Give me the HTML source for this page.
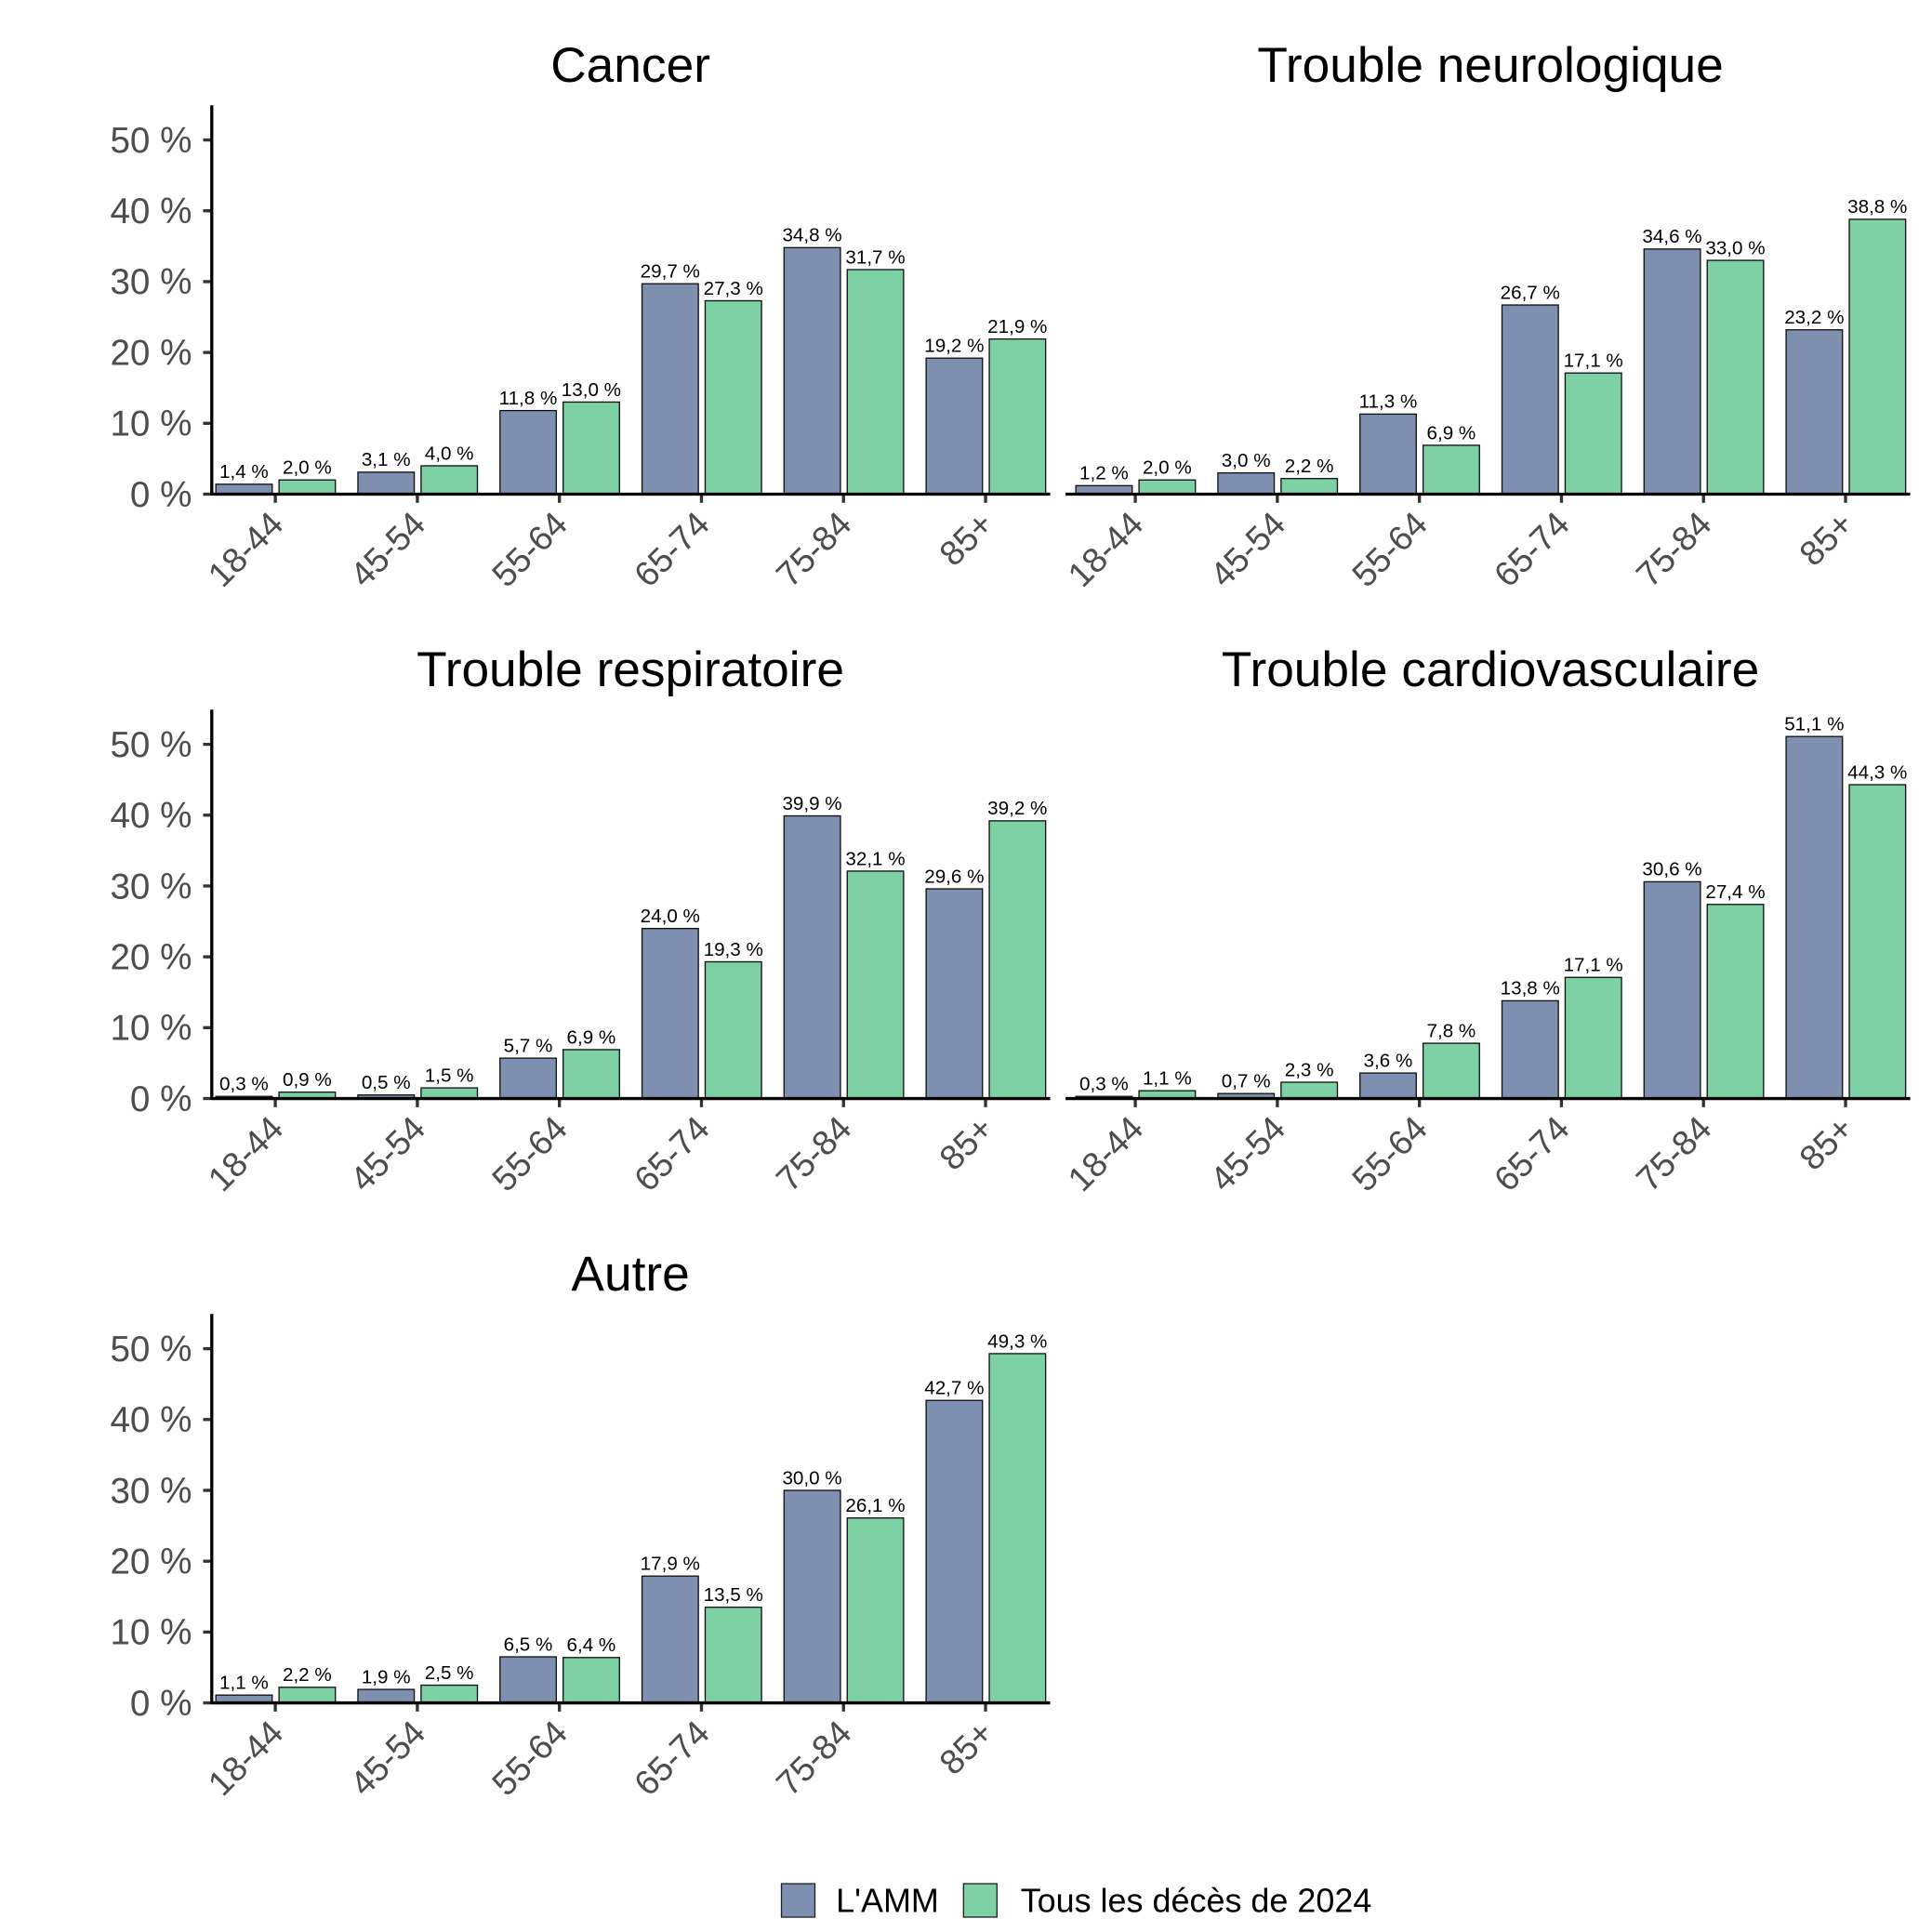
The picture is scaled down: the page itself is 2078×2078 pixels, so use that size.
<!DOCTYPE html>
<html><head><meta charset="utf-8"><style>
html,body{margin:0;padding:0;background:#fff;}
svg{display:block;font-family:"Liberation Sans",sans-serif;}
</style></head><body>
<svg id="chart" width="2078" height="2078" viewBox="0 0 1560 1560" xmlns="http://www.w3.org/2000/svg">
<g id="root"></g>
<g>
 <rect x="631" y="1521" width="27" height="27" fill="#7f8fb0" stroke="#222" stroke-width="1"/>
 <text x="675" y="1544" font-size="27" fill="#000">L'AMM</text>
 <rect x="778" y="1521" width="27" height="27" fill="#7dd1a5" stroke="#222" stroke-width="1"/>
 <text x="824" y="1544" font-size="27" fill="#000">Tous les décès de 2024</text>
</g>
</svg>
<script>
const categories = ["18-44","45-54","55-64","65-74","75-84","85+"];
const panelTitles = ["Cancer","Trouble neurologique","Trouble respiratoire","Trouble cardiovasculaire","Autre"];
const ammValues = [
 [1.4,3.1,11.8,29.7,34.8,19.2],
 [1.2,3.0,11.3,26.7,34.6,23.2],
 [0.3,0.5,5.7,24.0,39.9,29.6],
 [0.3,0.7,3.6,13.8,30.6,51.1],
 [1.1,1.9,6.5,17.9,30.0,42.7]
];
const allValues = [
 [2.0,4.0,13.0,27.3,31.7,21.9],
 [2.0,2.2,6.9,17.1,33.0,38.8],
 [0.9,1.5,6.9,19.3,32.1,39.2],
 [1.1,2.3,7.8,17.1,27.4,44.3],
 [2.2,2.5,6.4,13.5,26.1,49.3]
];
const yTicks = [0,10,20,30,40,50];

const NS="http://www.w3.org/2000/svg";
const root=document.getElementById('root');
function mk(tag,attrs,parent){const e=document.createElementNS(NS,tag);for(const k in attrs)e.setAttribute(k,attrs[k]);parent.appendChild(e);return e;}
function fmt(v){return v.toFixed(1).replace('.',',')+' %';}

panelTitles.forEach((title,p)=>{
  const col=p%2,row=Math.floor(p/2);
  const ox=col*694.4, oy=row*488;
  const axisX=(col?166:171)+ox, baseY=399+oy, right=848+ox;
  const y=v=>baseY-v*5.72;
  const x=i=>222.3+ox+i*114.7;
  const g=mk('g',{},root);
  
  
  const t=mk('text',{x:(x(0)+x(5))/2,y:66+oy,'font-size':40,'text-anchor':'middle',fill:'#000'},g);
  t.textContent=title;
  
  
  categories.forEach((c,i)=>{
    [[ammValues[p][i],'#7f8fb0',-1],[allValues[p][i],'#7dd1a5',1]].forEach(([v,fill,s])=>{
      const bx = s<0 ? x(i)-48 : x(i)+3;
      const r=mk('rect',{x:bx,y:y(v),width:45.5,height:baseY-y(v),fill:fill,stroke:'#111','stroke-width':1},g);
      
      
      const l=mk('text',{x:bx+22.7,y:y(v)-5,'font-size':15.5,'text-anchor':'middle',fill:'#000'},g);
      l.textContent=fmt(v);
      
      
    });
    const tk=mk('line',{x1:x(i),x2:x(i),y1:baseY,y2:baseY+7,stroke:'#333','stroke-width':2.5},g);
    
    
    const ax=x(i)+8, ay=baseY+26;
    const xl=mk('text',{x:ax,y:ay,'font-size':28,'text-anchor':'end',fill:'#4d4d4d',transform:`rotate(-45 ${ax} ${ay})`},g);
    xl.textContent=c;
    
    
  });
  if(col===0){
    yTicks.forEach(v=>{
      const tk=mk('line',{x1:axisX-7,x2:axisX,y1:y(v),y2:y(v),stroke:'#333','stroke-width':2.5},g);
      
      
      const yl=mk('text',{x:axisX-16,y:y(v)+10,'font-size':29,'text-anchor':'end',fill:'#4d4d4d'},g);
      yl.textContent=v+' %';
      
      
    });
    const ya=mk('line',{x1:axisX,x2:axisX,y1:85+oy,y2:baseY+1,stroke:'#000','stroke-width':2.5},g);
    
    
  }
  const xa=mk('line',{x1:axisX,x2:right,y1:baseY,y2:baseY,stroke:'#000','stroke-width':2.5},g);
  
  
});
</script>
</body></html>
